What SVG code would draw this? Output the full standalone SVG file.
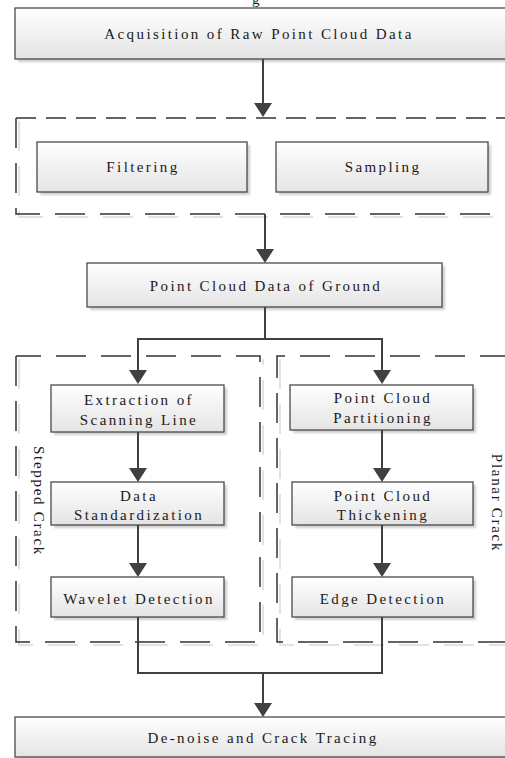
<svg xmlns="http://www.w3.org/2000/svg" width="505" height="758" viewBox="0 0 505 758">
<defs>
<linearGradient id="boxfill" x1="0" y1="0" x2="0" y2="1">
<stop offset="0" stop-color="#ffffff"/>
<stop offset="1" stop-color="#e4e4e4"/>
</linearGradient>
<filter id="blur" x="-10%" y="-10%" width="120%" height="130%">
<feGaussianBlur stdDeviation="1.2"/>
</filter>
<marker id="arr" markerUnits="userSpaceOnUse" markerWidth="14" markerHeight="18" refX="10" refY="9" orient="auto" viewBox="0 0 14 18">
<path d="M0,0 L14,9 L0,18 z" fill="#404040"/>
</marker>
</defs>
<style>
.box{fill:url(#boxfill);stroke:#4a4a4a;stroke-width:1.3}
.shadow{fill:#cfcfcf;filter:url(#blur)}
.t{font-family:"Liberation Serif","Times New Roman",serif;font-size:15px;fill:#1a1a1a;text-anchor:middle;letter-spacing:2.4px}
.v{font-family:"Liberation Serif","Times New Roman",serif;font-size:15px;fill:#1a1a1a;text-anchor:middle;letter-spacing:1.7px}
.dash{fill:none;stroke:#333;stroke-width:1.5;stroke-dasharray:30 15}
.dashs{fill:none;stroke:#333;stroke-width:1.5;stroke-dasharray:20 10}
.dsh{fill:none;stroke:#e2e2e2;stroke-width:2;stroke-dasharray:30 15}
.conn{fill:none;stroke:#404040;stroke-width:2}
</style>
<rect width="505" height="758" fill="#ffffff"/>
<text class="t" x="257" y="4">g</text>

<g id="group-preprocess">
<path class="dsh" d="M19,121 V217 H510"/>
<path class="dashs" d="M16,118 H510"/>
<path class="dash" d="M16,118 V214 H510"/>
</g>
<g id="group-stepped">
<path class="dsh" d="M19,359 V645 H263 V359"/>
<path class="dash" d="M16,356 V642 H260 V356 H16"/>
<text class="v" transform="translate(39,501) rotate(90)" dominant-baseline="central">Stepped Crack</text>
</g>
<g id="group-planar">
<path class="dsh" d="M280,359 V645 H510"/>
<path class="dash" d="M510,356 H277 V642 H510"/>
<text class="v" transform="translate(497,503) rotate(90)" dominant-baseline="central">Planar Crack</text>
</g>

<g id="n-acq">
<rect class="shadow" x="18" y="11" width="500" height="51"/>
<rect class="box" x="15" y="8" width="500" height="51"/>
<text class="t" x="259" y="39">Acquisition of Raw Point Cloud Data</text>
</g>
<g id="n-filter">
<rect class="shadow" x="40" y="145" width="210" height="50"/>
<rect class="box" x="37" y="142" width="210" height="50"/>
<text class="t" x="143" y="172">Filtering</text>
</g>
<g id="n-sample">
<rect class="shadow" x="279" y="145" width="212" height="50"/>
<rect class="box" x="276" y="142" width="212" height="50"/>
<text class="t" x="383" y="172">Sampling</text>
</g>
<g id="n-ground">
<rect class="shadow" x="90" y="266" width="355" height="44"/>
<rect class="box" x="87" y="263" width="355" height="44"/>
<text class="t" x="266" y="291">Point Cloud Data of Ground</text>
</g>
<g id="n-extract">
<rect class="shadow" x="54" y="388" width="173" height="47"/>
<rect class="box" x="51" y="385" width="173" height="47"/>
<text class="t" x="139" y="405">Extraction of</text>
<text class="t" x="139" y="425">Scanning Line</text>
</g>
<g id="n-std">
<rect class="shadow" x="54" y="485" width="173" height="43"/>
<rect class="box" x="51" y="482" width="173" height="43"/>
<text class="t" x="139" y="501">Data</text>
<text class="t" x="139" y="520">Standardization</text>
</g>
<g id="n-wavelet">
<rect class="shadow" x="54" y="580" width="173" height="40"/>
<rect class="box" x="51" y="577" width="173" height="40"/>
<text class="t" x="139" y="604">Wavelet Detection</text>
</g>
<g id="n-partition">
<rect class="shadow" x="293" y="388" width="183" height="45"/>
<rect class="box" x="290" y="385" width="183" height="45"/>
<text class="t" x="383" y="403">Point Cloud</text>
<text class="t" x="383" y="423">Partitioning</text>
</g>
<g id="n-thicken">
<rect class="shadow" x="295" y="485" width="181" height="43"/>
<rect class="box" x="292" y="482" width="181" height="43"/>
<text class="t" x="383" y="501">Point Cloud</text>
<text class="t" x="383" y="520">Thickening</text>
</g>
<g id="n-edge">
<rect class="shadow" x="295" y="580" width="181" height="40"/>
<rect class="box" x="292" y="577" width="181" height="40"/>
<text class="t" x="383" y="604">Edge Detection</text>
</g>
<g id="n-denoise">
<rect class="shadow" x="18" y="720" width="500" height="40"/>
<rect class="box" x="15" y="717" width="500" height="40"/>
<text class="t" x="263" y="743">De-noise and Crack Tracing</text>
</g>

<g id="connectors">
<path class="conn" d="M263,59 V113" marker-end="url(#arr)"/>
<path class="conn" d="M265,214 V259" marker-end="url(#arr)"/>
<path class="conn" d="M265,307 V339 H138 V380" marker-end="url(#arr)"/>
<path class="conn" d="M265,339 H382 V380" marker-end="url(#arr)"/>
<path class="conn" d="M138,432 V478" marker-end="url(#arr)"/>
<path class="conn" d="M138,525 V573" marker-end="url(#arr)"/>
<path class="conn" d="M382,430 V478" marker-end="url(#arr)"/>
<path class="conn" d="M382,525 V573" marker-end="url(#arr)"/>
<path class="conn" d="M138,617 V673 H382 V617"/>
<path class="conn" d="M263,673 V713" marker-end="url(#arr)"/>
</g>
</svg>
